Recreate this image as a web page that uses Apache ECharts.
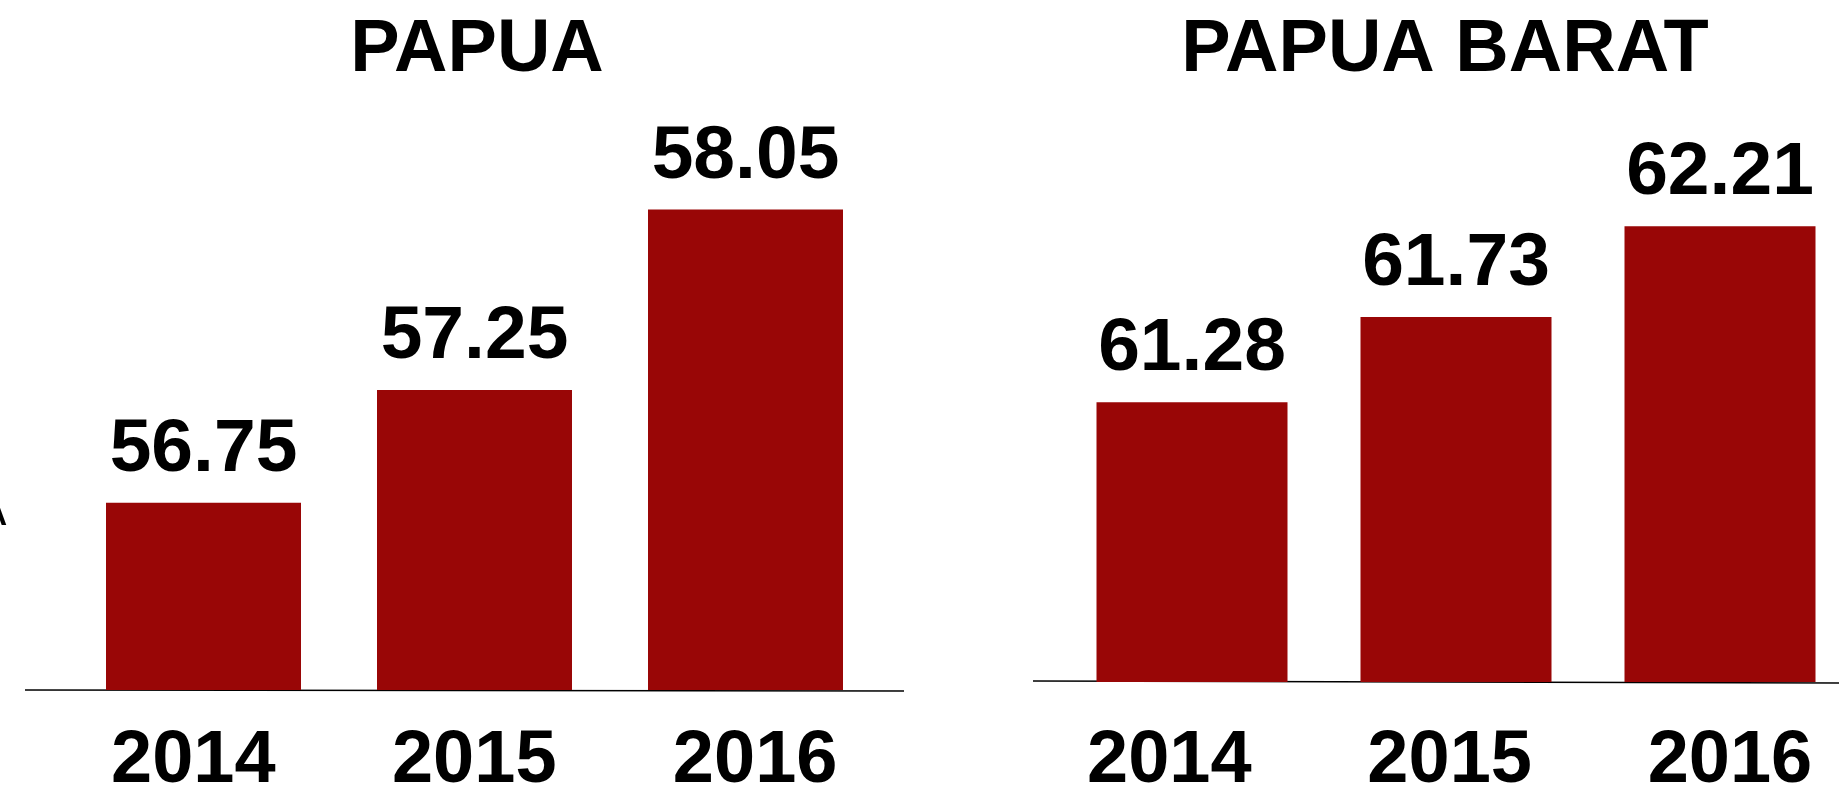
<!DOCTYPE html>
<html>
<head>
<meta charset="utf-8">
<script src="https://cdn.jsdelivr.net/npm/echarts@6/dist/echarts.min.js"></script>
<style>
html,body{margin:0;padding:0;background:#fff;}
#main{width:1839px;height:792px;}
</style>
</head>
<body>
<div id="main"></div>
<script>
const categories = ['2014', '2015', '2016'];
const papuaValues = [56.75, 57.25, 58.05];
const papuaBaratValues = [61.28, 61.73, 62.21];
const panelTitles = ['PAPUA', 'PAPUA BARAT'];

const FONT = "'Liberation Sans', Arial, sans-serif";
const BAR_COLOR = '#990606';

const chart = echarts.init(document.getElementById('main'), null, {renderer: 'canvas'});

function barXAxis(gridIndex) {
  return {
    type: 'category', gridIndex: gridIndex, data: categories,
    axisLine: {show: false}, axisTick: {show: false}, axisLabel: {show: false}
  };
}
function labelXAxis(gridIndex) {
  return {
    type: 'category', gridIndex: gridIndex, data: categories,
    axisLine: {show: false}, axisTick: {show: false},
    axisLabel: {
      margin: 35, fontFamily: FONT, fontWeight: 'bold', fontSize: 74, color: '#000'
    }
  };
}
function yAxisFor(gridIndex, min, max) {
  return {type: 'value', gridIndex: gridIndex, min: min, max: max, show: false, splitLine: {show: false}};
}
function barSeries(idx, values, width) {
  return {
    type: 'bar', xAxisIndex: idx, yAxisIndex: idx, data: values, barWidth: width, clip: true,
    itemStyle: {color: BAR_COLOR},
    label: {
      show: true, position: 'top', distance: 15,
      fontFamily: FONT, fontWeight: 'bold', fontSize: 75, color: '#000',
      formatter: p => p.value.toFixed(2)
    }
  };
}

chart.setOption({
  backgroundColor: '#fff',
  animation: false,
  title: [
    {text: panelTitles[0], left: 472, top: 9, textAlign: 'center',
     textStyle: {fontFamily: FONT, fontWeight: 'bold', fontSize: 74, color: '#000'}},
    {text: panelTitles[1], left: 1440, top: 9, textAlign: 'center',
     textStyle: {fontFamily: FONT, fontWeight: 'bold', fontSize: 74, color: '#000'}}
  ],
  grid: [
    {left: 68, width: 813, top: 85.4, bottom: 102, outerBoundsMode: 'none'},
    {left: 1060, width: 792, top: 95.8, bottom: 110, outerBoundsMode: 'none'},
    {left: 52.9, width: 842.7, top: 600, bottom: 102, outerBoundsMode: 'none'},
    {left: 1029.2, width: 840.9, top: 600, bottom: 102, outerBoundsMode: 'none'}
  ],
  xAxis: [barXAxis(0), barXAxis(1), labelXAxis(2), labelXAxis(3)],
  yAxis: [yAxisFor(0, 55.92, 58.6), yAxisFor(1, 59.8, 62.9), yAxisFor(2, 0, 1), yAxisFor(3, 0, 1)],
  series: [
    barSeries(0, papuaValues, 195),
    barSeries(1, papuaBaratValues, 191)
  ],
  graphic: [
    {type: 'line', shape: {x1: 25, y1: 690, x2: 904, y2: 691}, style: {stroke: '#000', lineWidth: 1.5}, z: 0},
    {type: 'line', shape: {x1: 1033, y1: 681, x2: 1839, y2: 683}, style: {stroke: '#000', lineWidth: 1.5}, z: 0},
    {type: 'text', left: -16, top: 500, style: {text: 'A', font: "bold 32px 'Liberation Sans', Arial, sans-serif", fill: '#000'}}
  ]
});
</script>
</body>
</html>
